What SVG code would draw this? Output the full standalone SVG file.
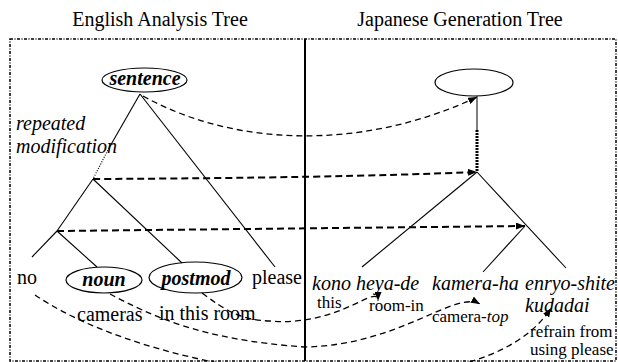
<svg xmlns="http://www.w3.org/2000/svg" width="618" height="362" viewBox="0 0 618 362" font-family="'Liberation Serif', 'Times New Roman', Times, serif">
<defs>
<marker id="ah" markerWidth="9" markerHeight="7" refX="9" refY="3.5" orient="auto" markerUnits="userSpaceOnUse">
<path d="M0,0 L9,3.5 L0,7 Z" fill="#000"/>
</marker>
<style>
text{font-family:'Liberation Serif','Times New Roman',Times,serif;fill:#000}
.t20{font-size:20px}
.t17{font-size:17px}
.it{font-style:italic}
.bi{font-style:italic;font-weight:bold}
.mid{text-anchor:middle}
.el{fill:none;stroke:#000;stroke-width:1.2}
.edge{fill:none;stroke:#000;stroke-width:1.1}
.dot{fill:none;stroke:#000;stroke-width:1.2;stroke-dasharray:1 1.5}
.hd{fill:none;stroke:#000;stroke-width:2;stroke-dasharray:7 4}
.cd{fill:none;stroke:#000;stroke-width:1.3;stroke-dasharray:6 4}
</style>
</defs>
<rect width="618" height="362" fill="#fff"/>
<g id="frame">
<rect x="10" y="39" width="606" height="322" fill="none" stroke="#000" stroke-width="1.5" stroke-dasharray="3 1.5 1 1.5"/>
<line x1="305" y1="39" x2="305" y2="361" stroke="#000" stroke-width="2"/>
<text class="t20 mid" x="160" y="26">English Analysis Tree</text>
<text class="t20 mid" x="460" y="26">Japanese Generation Tree</text>
</g>
<g id="connectors">
<line class="edge" x1="140" y1="94" x2="109" y2="148"/>
<line class="dot" x1="109" y1="148" x2="93" y2="179"/>
<line class="edge" x1="93" y1="179" x2="57" y2="231"/>
<line class="edge" x1="57" y1="231" x2="32" y2="257"/>
<line class="edge" x1="57" y1="231" x2="97" y2="267"/>
<line class="edge" x1="93" y1="179" x2="182" y2="263"/>
<line class="edge" x1="140" y1="94" x2="275" y2="267"/>
<line x1="477" y1="96" x2="477" y2="130" stroke="#555" stroke-width="1.5"/>
<line x1="477" y1="130" x2="477" y2="172" stroke="#000" stroke-width="3" stroke-dasharray="2 1"/>
<line class="edge" x1="477" y1="172" x2="362" y2="267"/>
<line class="edge" x1="477" y1="172" x2="566" y2="268"/>
<line class="edge" x1="525" y1="226" x2="483" y2="272"/>
<path class="cd" d="M143,96 C240,150 370,148 477,97" marker-end="url(#ah)"/>
<path class="hd" d="M93,179 Q330,178 477,172" marker-end="url(#ah)"/>
<path class="hd" d="M57,231 L525,226" marker-end="url(#ah)"/>
<path class="cd" d="M202,293 C225,310 240,320 270,321 C340,327 378,282 378,301" marker-end="url(#ah)"/>
<path class="cd" d="M110,294 C150,315 200,340 305,347 C400,345 455,290 480,304" marker-end="url(#ah)"/>
<path class="cd" d="M35,295 C160,380 480,420 551,308" marker-end="url(#ah)"/>
</g>
<g id="label-repeated">
<text class="t20 it" x="16" y="130">repeated</text>
<text class="t20 it" x="16" y="153">modification</text>
</g>
<g id="node-sentence">
<ellipse class="el" cx="144.5" cy="80" rx="42.5" ry="12"/>
<text class="t20 bi mid" x="145" y="85">sentence</text>
</g>
<g id="node-no"><text class="t20" x="17" y="284">no</text></g>
<g id="node-noun">
<ellipse class="el" cx="104" cy="280" rx="38" ry="13"/>
<text class="t20 bi mid" x="104" y="286">noun</text>
</g>
<g id="node-postmod">
<ellipse class="el" cx="195.5" cy="277.5" rx="46.5" ry="15.5"/>
<text class="t20 bi mid" x="196" y="285">postmod</text>
</g>
<g id="node-please"><text class="t20" x="252" y="284">please</text></g>
<g id="node-cameras"><text class="t20" x="77" y="321">cameras</text></g>
<g id="node-inthisroom"><text class="t20" x="159" y="320">in this room</text></g>
<g id="node-jroot">
<ellipse class="el" cx="474" cy="82.5" rx="39" ry="13.5"/>
</g>
<g id="node-konoheyade">
<text class="t20 it" x="312" y="290">kono heya-de</text>
<text class="t17" x="317" y="308">this</text>
<text class="t17" x="369" y="311">room-in</text>
</g>
<g id="node-kameraha">
<text class="t20 it" x="432" y="290">kamera-ha</text>
<text class="t17" x="432" y="322">camera-<tspan class="it">top</tspan></text>
</g>
<g id="node-enryo">
<text class="t20 it" x="525" y="290">enryo-shite</text>
<text class="t20 it" x="525" y="312">kudadai</text>
<text class="t17" x="530" y="337">refrain from</text>
<text class="t17" x="530" y="355">using please</text>
</g>
</svg>
